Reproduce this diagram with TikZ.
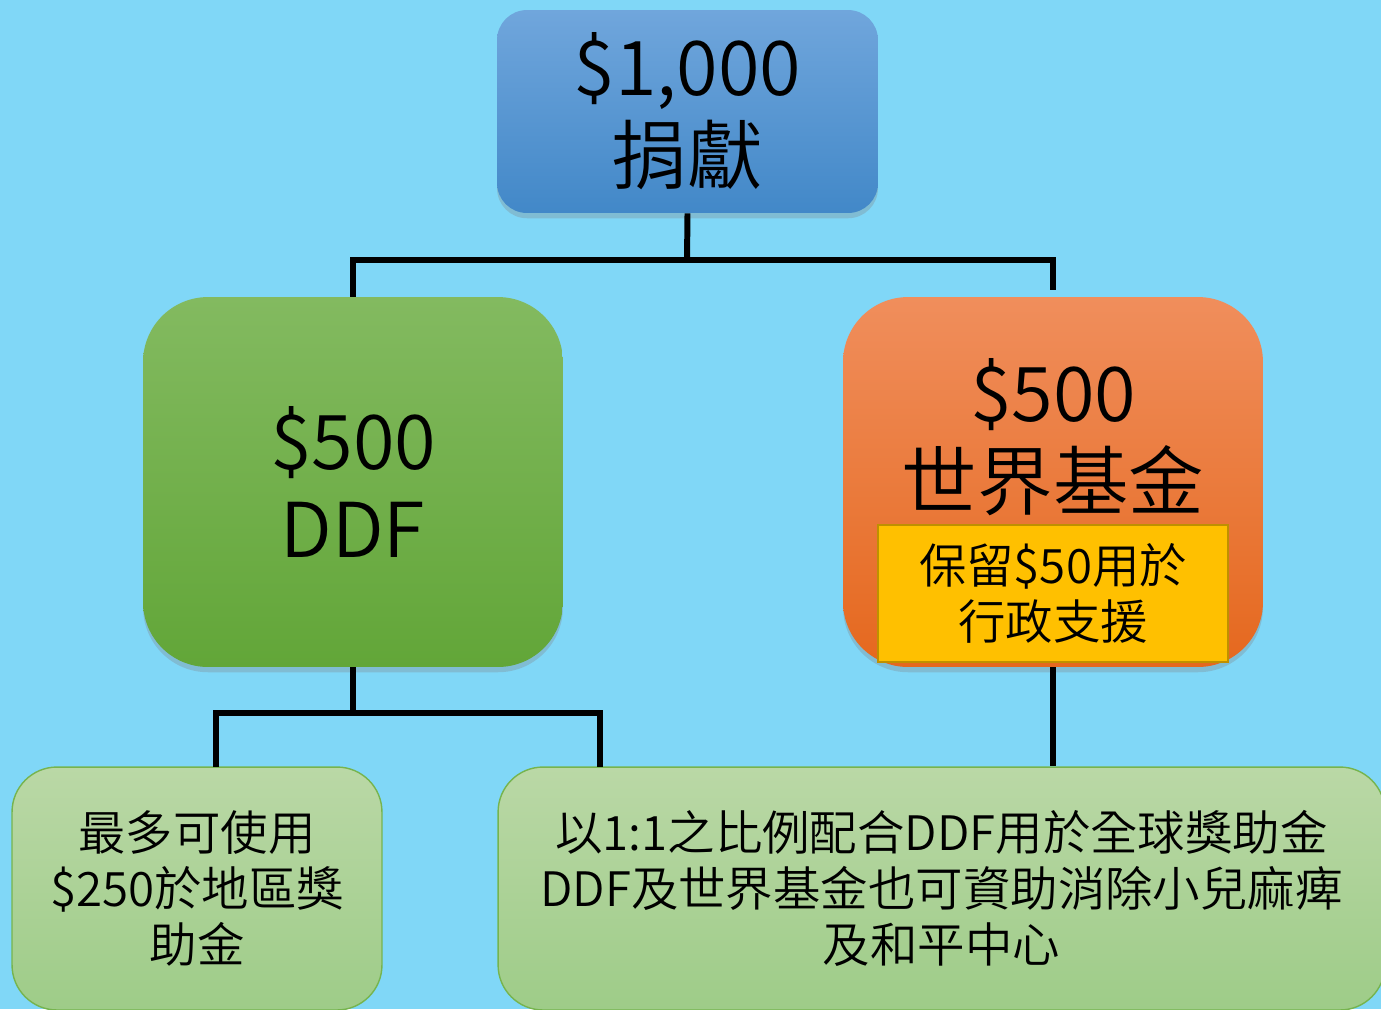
\documentclass[tikz,border=0pt]{standalone}
\usepackage{fontspec}
\setmainfont{Noto Sans CJK TC}[UprightFont=* DemiLight]
\usetikzlibrary{shadows}
\usetikzlibrary{positioning}

\definecolor{skybg}{RGB}{128,215,247}
\definecolor{giftTop}{RGB}{112,166,220}
\definecolor{giftBot}{RGB}{66,136,200}
\definecolor{ddfTop}{RGB}{131,186,96}
\definecolor{ddfBot}{RGB}{98,166,56}
\definecolor{wfTop}{RGB}{240,142,92}
\definecolor{wfBot}{RGB}{229,104,30}
\definecolor{keepFill}{RGB}{255,192,0}
\definecolor{keepLine}{RGB}{191,144,0}
\definecolor{paleTop}{RGB}{186,216,166}
\definecolor{paleBot}{RGB}{158,204,136}
\definecolor{paleLine}{RGB}{118,180,78}

\tikzset{
  bigtext/.style={font=\fontsize{43}{50}\selectfont, align=center},
  smalltext/.style={font=\fontsize{27}{32}\selectfont, align=center},
  link/.style={draw=black, line width=3.4pt, line join=miter}
}

\begin{document}
\begin{tikzpicture}[x=0.02cm,y=-0.02cm]
	\useasboundingbox[fill=skybg] (0,0) rectangle (1381,1009);

	% upper boxes
	\begin{scope}[every node/.style={inner sep=0pt, drop shadow={opacity=0.3, shadow xshift=0pt, shadow yshift=-3pt}}]
		\node[bigtext, rounded corners=0.6cm, top color=giftTop, bottom color=giftBot,
		      minimum width=7.62cm, minimum height=4.06cm] (gift) at (687.5,111.5) {\$1,000\\捐獻};
		\node[bigtext, rounded corners=1.3cm, top color=ddfTop, bottom color=ddfBot,
		      minimum width=8.4cm, minimum height=7.4cm] (ddf) at (353,482) {\$500\\DDF};
		\node[rounded corners=1.3cm, top color=wfTop, bottom color=wfBot,
		      minimum width=8.4cm, minimum height=7.4cm] (wf) at (1053,482) {};
	\end{scope}
	\node[bigtext] (wftext) at (1053,437) {\$500\\世界基金};
	\node[smalltext, fill=keepFill, draw=keepLine, line width=1.2pt, inner sep=0pt,
	      minimum width=7cm, minimum height=2.74cm] (keep) at (1053,593.5) {保留\$50用於\\行政支援};

	% lower boxes
	\begin{scope}[every node/.style={smalltext, rounded corners=0.9cm, top color=paleTop, bottom color=paleBot,
	              draw=paleLine, line width=0.8pt, inner sep=0pt}]
		\node[minimum width=7.4cm, minimum height=4.86cm] (local) at (197,888.5) {最多可使用\\\$250於地區獎\\助金};
		\node[minimum width=17.74cm, minimum height=4.86cm] (match) at (941.5,888.5) {以1:1之比例配合DDF用於全球獎助金\\DDF及世界基金也可資助消除小兒麻痺\\及和平中心};
	\end{scope}

	% connectors
	\coordinate (jtop) at (687,260);
	\coordinate (wfstub) at (1053,290);
	\coordinate (jddf) at (353,713);
	\coordinate (dleft) at (216,767);
	\coordinate (dright) at (600,767);
	\draw[link] (gift.south) -- (jtop);
	\draw[link] (ddf.north) |- (jtop) -| (wfstub);
	\draw[link] (ddf.south) -- (jddf);
	\draw[link] (dleft) |- (jddf) -| (dright);
	\draw[link] (wf.south) -- (wf.south |- match.north);
\end{tikzpicture}
\end{document}
